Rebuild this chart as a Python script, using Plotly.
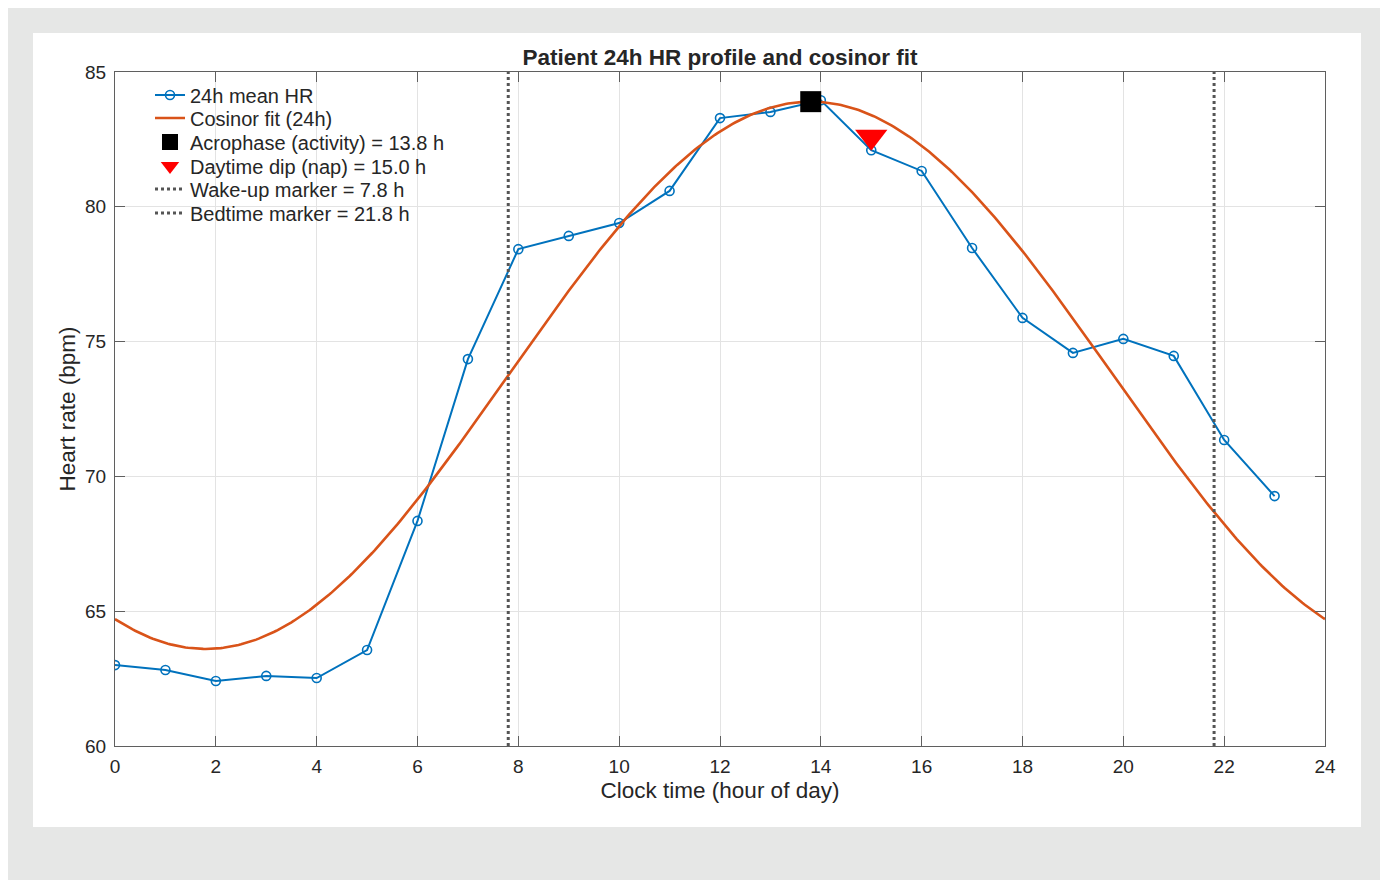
import numpy as np
import plotly.graph_objects as go

# ---- data ----
hours = list(range(24))
hr_mean = [63.0, 62.82, 62.41, 62.6, 62.52, 63.56, 68.35, 74.35, 78.43, 78.92,
           79.4, 80.59, 83.29, 83.52, 83.95, 82.1, 81.33, 78.47, 75.88, 74.58,
           75.1, 74.47, 71.35, 69.27]

# cosinor parameters (24 h period)
mesor = 73.75
amplitude = 10.15
acrophase_h = 13.8
period_h = 24.0

acro_value = 83.9
dip_hour = 15.0
dip_value = 82.6
wake_hour = 7.8
bed_hour = 21.8

x_ticks = list(range(0, 25, 2))
y_ticks = [60, 65, 70, 75, 80, 85]

legend_labels = ["24h mean HR", "Cosinor fit (24h)", "Acrophase (activity) = 13.8 h",
                 "Daytime dip (nap) = 15.0 h", "Wake-up marker = 7.8 h",
                 "Bedtime marker = 21.8 h"]

# cosinor model curve
t_fit = np.linspace(0, 24, 481)
fit = mesor + amplitude * np.cos(2 * np.pi * (t_fit - acrophase_h) / period_h)

FONT = "Liberation Sans, Arial, Helvetica, sans-serif"
TXT = "#262626"
BLUE = "#0072BD"
ORANGE = "#D95319"
MARK_GREY = "#555555"

# figure geometry (pixel positions within the figure)
W, H = 1388, 880
L, R, T, B = 107, 71, 64, 142
pw, ph = W - L - R, H - T - B

def px_to_paper_x(px):
    return (px - L) / pw

def px_to_paper_y(py):
    return (H - B - py) / ph

fig = go.Figure()

fig.add_trace(go.Scatter(
    x=hours, y=hr_mean, mode="lines+markers", name=legend_labels[0], legend="legend",
    line=dict(color=BLUE, width=2),
    marker=dict(symbol="circle-open", size=9, color=BLUE, line=dict(width=1.6, color=BLUE)),
))
fig.add_trace(go.Scatter(
    x=t_fit, y=fit, mode="lines", name=legend_labels[1], legend="legend2",
    line=dict(color=ORANGE, width=2.6),
))
fig.add_trace(go.Scatter(
    x=[acrophase_h], y=[acro_value], mode="markers",
    name=legend_labels[2], legend="legend3",
    marker=dict(symbol="square", size=21, color="black"),
))
fig.add_trace(go.Scatter(
    x=[dip_hour], y=[dip_value], mode="markers",
    name=legend_labels[3], legend="legend4",
    marker=dict(symbol="triangle-down", size=28, color="#FF0000"),
))
fig.add_trace(go.Scatter(
    x=[wake_hour, wake_hour], y=[60, 85], mode="lines",
    name=legend_labels[4], legend="legend5",
    line=dict(color=MARK_GREY, width=3, dash="dot"),
))
fig.add_trace(go.Scatter(
    x=[bed_hour, bed_hour], y=[60, 85], mode="lines",
    name=legend_labels[5], legend="legend6",
    line=dict(color=MARK_GREY, width=3, dash="dot"),
))

# white outer panel
fig.add_shape(type="rect", xref="paper", yref="paper",
              x0=px_to_paper_x(25), x1=px_to_paper_x(1353),
              y0=px_to_paper_y(819), y1=px_to_paper_y(25),
              fillcolor="white", line=dict(width=0), layer="below")
# legend background box (hides grid lines behind the legend)
fig.add_shape(type="rect", xref="paper", yref="paper",
              x0=px_to_paper_x(109), x1=px_to_paper_x(440),
              y0=px_to_paper_y(220), y1=px_to_paper_y(65),
              fillcolor="white", line=dict(width=0), layer="between")

axis_common = dict(
    showgrid=True, gridcolor="#E3E3E3", gridwidth=1,
    showline=True, linecolor="#5f5f5f", linewidth=1, mirror="ticks",
    ticks="inside", ticklen=10, tickcolor="#5f5f5f", tickwidth=1,
    zeroline=False,
    tickfont=dict(family=FONT, size=19, color=TXT),
)

fig.update_xaxes(
    range=[0, 24], tickvals=x_ticks, ticktext=[str(v) for v in x_ticks],
    ticklabelstandoff=3,
    title=dict(text="Clock time (hour of day)", font=dict(family=FONT, size=22.5, color=TXT), standoff=6),
    **axis_common,
)
fig.update_yaxes(
    range=[60, 85], tickvals=y_ticks, ticktext=[str(v) for v in y_ticks],
    ticklabelstandoff=4,
    title=dict(text="Heart rate (bpm)", font=dict(family=FONT, size=22.5, color=TXT), standoff=3),
    **axis_common,
)

# one legend per entry, placed at the reference entry rows
legend_rows_px = [87, 110, 134, 158, 181, 205]
legend_left_px = 142
legend_layouts = {}
for i, row in enumerate(legend_rows_px):
    key = "legend" if i == 0 else f"legend{i + 1}"
    legend_layouts[key] = dict(
        x=px_to_paper_x(legend_left_px), y=px_to_paper_y(row),
        xanchor="left", yanchor="middle",
        bgcolor="rgba(0,0,0,0)", borderwidth=0,
        font=dict(family=FONT, size=20, color=TXT),
        itemsizing="trace",
    )

fig.update_layout(
    width=W, height=H,
    margin=dict(l=L, r=R, t=T, b=B, pad=0),
    paper_bgcolor="#E6E7E6",
    plot_bgcolor="white",
    title=dict(text="<b>Patient 24h HR profile and cosinor fit</b>",
               x=0.5, xref="paper", xanchor="center",
               y=1 - 49 / H, yref="container", yanchor="middle",
               font=dict(family=FONT, size=22.5, color=TXT)),
    showlegend=True,
    **legend_layouts,
)

fig.write_html("out.html")
